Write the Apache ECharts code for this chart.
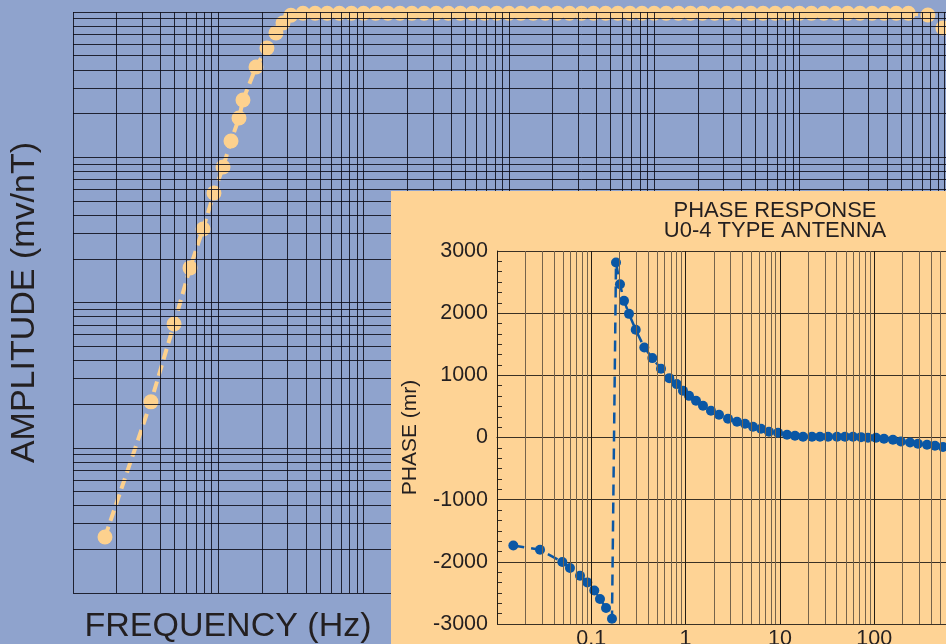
<!DOCTYPE html>
<html><head><meta charset="utf-8">
<script src="https://cdn.jsdelivr.net/npm/echarts@6/dist/echarts.min.js"></script>
<style>
html,body{margin:0;padding:0;width:946px;height:644px;overflow:hidden;background:#8fa3cd;}
#main{position:absolute;left:0;top:0;width:1100px;height:644px;}
#inset{position:absolute;left:391px;top:191px;width:700px;height:460px;background:#fed395;}
</style></head><body>
<div id="main"></div><div id="inset"></div>
<script>
// ---------- Amplitude response (main chart) ----------
const ampFreq = [0.0166, 0.0344, 0.0496, 0.0639, 0.0785, 0.0934, 0.1078, 0.1223, 0.1389, 0.1479,
  0.1818, 0.2163, 0.2495, 0.2788,
  0.316, 0.383, 0.464, 0.562, 0.681, 0.825, 1, 1.21, 1.47, 1.78, 2.15, 2.61,
  3.16, 3.83, 4.64, 5.62, 6.81, 8.25, 10, 12.1, 14.7, 17.8, 21.5, 26.1,
  31.6, 38.3, 46.4, 56.2, 68.1, 82.5, 100, 121, 147, 178, 215, 261,
  316, 383, 464, 562, 681, 825, 1000, 1210, 1470, 1780, 2150, 2610,
  3160, 3830, 4640, 5620, 7660, 9720];
const ampValue = [2.43, 20.7, 71.1, 173, 321, 567, 857, 1294, 1862, 2477,
  4180, 5650, 7167, 8397,
  9500, 9800, 9800, 9800, 9800, 9800, 9800, 9800, 9800, 9800, 9800, 9800,
  9800, 9800, 9800, 9800, 9800, 9800, 9800, 9800, 9800, 9800, 9800, 9800,
  9800, 9800, 9800, 9800, 9800, 9800, 9800, 9800, 9800, 9800, 9800, 9800,
  9800, 9800, 9800, 9800, 9800, 9800, 9800, 9800, 9800, 9800, 9800, 9800,
  9800, 9800, 9800, 9800, 9530, 7760];

// ---------- Phase response (inset) ----------
const phaseFreq = [0.0149, 0.0286, 0.0493, 0.0594, 0.0759, 0.0907, 0.1076, 0.1236, 0.1433, 0.1657,
  0.1828, 0.2014, 0.2222, 0.2511, 0.2958, 0.3648, 0.4436, 0.5483, 0.6714, 0.8047,
  0.938, 1.087, 1.289, 1.529, 1.858, 2.261, 2.817, 3.508, 4.266, 5.185,
  6.305, 7.66, 9.55, 11.9, 14.45, 17.6, 21.9, 26.6, 32.4, 40.3,
  49.0, 59.6, 72.5, 85.9, 104.5, 127, 158, 192, 240, 291,
  363, 441, 537];
const phaseValue = [-1736, -1805, -2003, -2100, -2223, -2331, -2460, -2598, -2743, -2915,
  2814, 2466, 2198, 1989, 1732, 1447, 1277, 1105, 955, 859,
  751, 670, 590, 510, 429, 365, 301, 252, 220, 172,
  140, 92, 76, 43, 27, 11, 11, 11, 11, 11,
  11, 11, 6, -5, -5, -21, -37, -64, -80, -101,
  -117, -133, -154];
const phaseTickLabels = ['0.1', '1', '10', '100', '1000'];
const phaseYTicks = [-3000, -2000, -1000, 0, 1000, 2000, 3000];

const FONT = '"Liberation Sans", Arial, Helvetica, sans-serif';
const TXT = '#231f20';

function logGrid(fromExp, toExp) {
  const out = [];
  for (let n = fromExp; n < toExp; n++) {
    for (let k = 1; k <= 9; k++) out.push({ v: Number((k * Math.pow(10, n)).toPrecision(3)), major: k === 1 });
  }
  out.push({ v: Math.pow(10, toExp), major: true });
  return out;
}

// ---------- main chart ----------
const main = echarts.init(document.getElementById('main'), null, { renderer: 'canvas', devicePixelRatio: 1 });
const mainX = logGrid(-2, 5);
const mainY = logGrid(0, 4);
const mainGridLines = mainX.map(g => ({ xAxis: g.v })).concat(mainY.map(g => ({ yAxis: g.v })));

main.setOption({
  animation: false,
  grid: { left: 73, top: 12, width: 1017, height: 581 },
  xAxis: {
    type: 'log', logBase: 10, min: 0.01, max: 100000,
    axisLine: { show: false }, axisTick: { show: false }, axisLabel: { show: false }, splitLine: { show: false }
  },
  yAxis: {
    type: 'log', logBase: 10, min: 1, max: 10000,
    axisLine: { show: false }, axisTick: { show: false }, axisLabel: { show: false }, splitLine: { show: false },
    name: 'AMPLITUDE (mv/nT)', nameLocation: 'middle', nameGap: 31, nameRotate: 90,
    nameTextStyle: { fontSize: 34, color: TXT, fontFamily: FONT }
  },
  graphic: [{
    type: 'text', x: 228, y: 627,
    style: { text: 'FREQUENCY (Hz)', fontSize: 34, fontFamily: FONT, fill: TXT, align: 'center', verticalAlign: 'middle' }
  }],
  series: [
    {
      type: 'line', data: [], z: 1, silent: true,
      markLine: {
        silent: true, symbol: ['none', 'none'], label: { show: false }, animation: false,
        lineStyle: { color: 'rgba(12,12,22,0.85)', width: 1, type: 'solid' },
        emphasis: { disabled: true },
        data: mainGridLines
      }
    },
    {
      type: 'line', z: 3,
      data: ampFreq.map((f, i) => [f, ampValue[i]]),
      symbol: 'circle', symbolSize: 15, showAllSymbol: true,
      itemStyle: { color: '#fdd18e' },
      lineStyle: { color: '#fdd18e', width: 4, type: [11, 6] }
    }
  ]
});

// ---------- inset chart ----------
const inset = echarts.init(document.getElementById('inset'), null, { renderer: 'canvas', devicePixelRatio: 1 });
const insetX = logGrid(-2, 3);
const insetGridLines = insetX.map(g => ({
  xAxis: g.v,
  lineStyle: { color: g.major ? '#241d14' : '#75634b', width: 1, type: 'solid' }
}));

inset.setOption({
  animation: false,
  grid: { left: 106, top: 60, width: 471.5, height: 373 },
  xAxis: {
    type: 'log', logBase: 10, min: 0.01, max: 1000,
    axisLine: { show: true, lineStyle: { color: '#3a3024', width: 1 } },
    axisTick: { show: false },
    splitLine: { show: false },
    axisLabel: {
      fontSize: 21.5, color: TXT, margin: 4, fontFamily: FONT,
      formatter: v => phaseTickLabels.find(l => Math.abs(Number(l) - v) < 1e-9 * Math.max(1, v)) || ''
    }
  },
  yAxis: {
    type: 'value', min: phaseYTicks[0], max: phaseYTicks[phaseYTicks.length - 1], interval: 1000,
    axisLine: { show: true, lineStyle: { color: '#3a3024', width: 1 } },
    axisTick: { show: true, inside: true, length: 5, lineStyle: { color: '#3a3024' } },
    minorTick: { show: true, splitNumber: 6, length: 5, lineStyle: { color: '#3a3024' } },
    splitLine: { show: true, lineStyle: { color: '#3a3024', width: 1 } },
    axisLabel: { fontSize: 21.5, color: TXT, margin: 9, fontFamily: FONT, formatter: v => String(v) },
    name: 'PHASE (mr)', nameLocation: 'middle', nameGap: 76, nameRotate: 90,
    nameTextStyle: { fontSize: 21, color: TXT, fontFamily: FONT }
  },
  graphic: [
    { type: 'text', x: 384, y: 19.5, style: { text: 'PHASE RESPONSE', fontSize: 22, fontFamily: FONT, fill: TXT, align: 'center', verticalAlign: 'middle' } },
    { type: 'text', x: 384, y: 40, style: { text: 'U0-4 TYPE ANTENNA', fontSize: 22, fontFamily: FONT, fill: TXT, align: 'center', verticalAlign: 'middle' } }
  ],
  series: [
    {
      type: 'line', data: [], z: 1, silent: true,
      markLine: {
        silent: true, symbol: ['none', 'none'], label: { show: false }, animation: false,
        emphasis: { disabled: true },
        data: insetGridLines
      }
    },
    {
      type: 'line', z: 3,
      data: phaseFreq.map((f, i) => [f, phaseValue[i]]),
      symbol: 'circle', symbolSize: 10, showAllSymbol: true,
      itemStyle: { color: '#0a57a5' },
      lineStyle: { color: '#0a57a5', width: 2.5, type: [11, 7] }
    }
  ]
});
</script>
</body></html>
